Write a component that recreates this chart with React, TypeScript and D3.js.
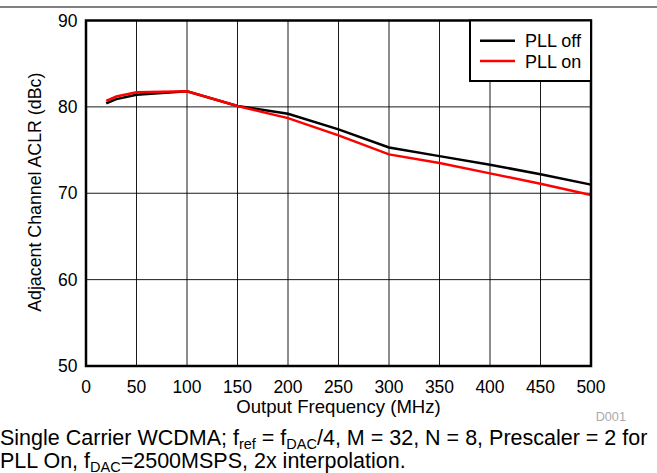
import React, { useRef, useEffect } from 'react';
import * as d3 from 'd3';

const freqs = [20, 30, 50, 100, 150, 200, 250, 300, 350, 400, 450, 500];
const pllOff = [80.4, 80.9, 81.4, 81.8, 80.1, 79.2, 77.4, 75.3, 74.3, 73.3, 72.2, 71.0];
const pllOn = [80.7, 81.2, 81.7, 81.8, 80.1, 78.7, 76.7, 74.5, 73.5, 72.3, 71.1, 69.8];
const xTicks = [0, 50, 100, 150, 200, 250, 300, 350, 400, 450, 500];
const yTicks = [50, 60, 70, 80, 90];
const seriesNames = ['PLL off', 'PLL on'];
const seriesColors = ['#000000', '#ff0000'];

function App() {
  const ref = useRef<SVGSVGElement>(null);

  useEffect(() => {
    if (!ref.current) return;
    const svg = d3.select(ref.current);
    svg.selectAll('*').remove();

    const font = 'Liberation Sans, Arial, sans-serif';
    const left = 86, right = 591, top = 20.5, bottom = 366;

    const x = d3.scaleLinear().domain([0, 500]).range([left, right]);
    const y = d3.scaleLinear().domain([50, 90]).range([bottom, top]);

    // top rule
    svg.append('line')
      .attr('x1', 0).attr('x2', 657).attr('y1', 7).attr('y2', 7)
      .attr('stroke', '#000').attr('stroke-width', 1);

    // grid
    svg.append('g').selectAll('line')
      .data(xTicks.slice(1, -1))
      .enter().append('line')
      .attr('x1', d => x(d)).attr('x2', d => x(d))
      .attr('y1', top).attr('y2', bottom)
      .attr('stroke', '#000').attr('stroke-width', 0.9);
    svg.append('g').selectAll('line')
      .data(yTicks.slice(1, -1))
      .enter().append('line')
      .attr('x1', left).attr('x2', right)
      .attr('y1', d => y(d)).attr('y2', d => y(d))
      .attr('stroke', '#000').attr('stroke-width', 0.9);

    // series
    const line = d3.line<number>()
      .x((_, i) => x(freqs[i]))
      .y(d => y(d));
    [pllOff, pllOn].forEach((vals, k) => {
      svg.append('path')
        .datum(vals)
        .attr('d', line)
        .attr('fill', 'none')
        .attr('stroke', seriesColors[k])
        .attr('stroke-width', 2.5);
    });

    // frame
    svg.append('rect')
      .attr('x', left).attr('y', top)
      .attr('width', right - left).attr('height', bottom - top)
      .attr('fill', 'none').attr('stroke', '#000').attr('stroke-width', 2.5);

    // legend
    const lg = svg.append('g');
    lg.append('rect')
      .attr('x', 470).attr('y', top)
      .attr('width', right - 470).attr('height', 81 - top)
      .attr('fill', '#fff').attr('stroke', '#000').attr('stroke-width', 2);
    seriesNames.forEach((name, i) => {
      const yy = 40.7 + i * 20.4;
      lg.append('line')
        .attr('x1', 480).attr('x2', 515).attr('y1', yy).attr('y2', yy)
        .attr('stroke', seriesColors[i]).attr('stroke-width', 2.5);
      lg.append('text')
        .attr('x', 525).attr('y', yy + 6.6)
        .attr('font-family', font).attr('font-size', 18)
        .attr('fill', '#000')
        .text(name);
    });

    // tick labels
    svg.append('g').selectAll('text')
      .data(xTicks)
      .enter().append('text')
      .attr('x', d => x(d)).attr('y', 392.5)
      .attr('text-anchor', 'middle')
      .attr('font-family', font).attr('font-size', 17.5)
      .text(d => d);
    svg.append('g').selectAll('text')
      .data(yTicks)
      .enter().append('text')
      .attr('x', 77.5).attr('y', d => y(d) + 6.2)
      .attr('text-anchor', 'end')
      .attr('font-family', font).attr('font-size', 17.5)
      .text(d => d);

    // axis titles
    svg.append('text')
      .attr('x', (left + right) / 2).attr('y', 413.3)
      .attr('text-anchor', 'middle')
      .attr('font-family', font).attr('font-size', 18.6)
      .text('Output Frequency (MHz)');
    svg.append('text')
      .attr('transform', `translate(40.5, ${(top + bottom) / 2 - 1}) rotate(-90)`)
      .attr('text-anchor', 'middle')
      .attr('font-family', font).attr('font-size', 17.8)
      .text('Adjacent Channel ACLR (dBc)');

    svg.append('text')
      .attr('x', 626).attr('y', 420.7)
      .attr('text-anchor', 'end')
      .attr('font-family', font).attr('font-size', 12.7)
      .attr('fill', '#aaa')
      .text('D001');

    // caption
    const cap1 = svg.append('text')
      .attr('x', 0).attr('y', 445)
      .attr('font-family', font).attr('font-size', 21.5);
    cap1.append('tspan').text('Single Carrier WCDMA; f');
    cap1.append('tspan').attr('font-size', 14.5).attr('dy', 4).text('ref');
    cap1.append('tspan').attr('dy', -4).text(' = f');
    cap1.append('tspan').attr('font-size', 14.5).attr('dy', 4).text('DAC');
    cap1.append('tspan').attr('dy', -4).text('/4, M = 32, N = 8, Prescaler = 2 for');

    const cap2 = svg.append('text')
      .attr('x', 0).attr('y', 467.5)
      .attr('font-family', font).attr('font-size', 21.5);
    cap2.append('tspan').text('PLL On, f');
    cap2.append('tspan').attr('font-size', 14.5).attr('dy', 4).text('DAC');
    cap2.append('tspan').attr('dy', -4).text('=2500MSPS, 2x interpolation.');
  }, []);

  return (
    <svg
      ref={ref}
      width={657}
      height={473}
      style={{ position: 'absolute', left: 0, top: 0, background: '#fff' }}
    />
  );
}

export default App;
